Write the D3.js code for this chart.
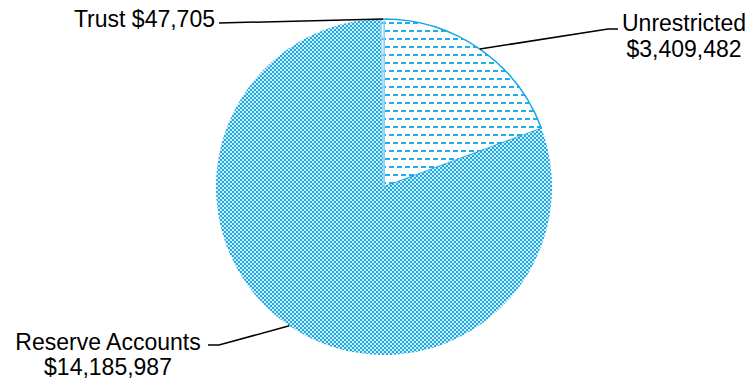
<!DOCTYPE html>
<html>
<head>
<meta charset="utf-8">
<script src="https://cdn.jsdelivr.net/npm/d3@7/dist/d3.min.js"></script>
<style>
  body { margin: 0; background: #fff; }
  svg { display: block; font-family: Arial, "Liberation Sans", sans-serif; }
</style>
</head>
<body>
<svg id="chart" width="751" height="381"></svg>
<script>
const categories = ["Unrestricted", "Reserve Accounts", "Trust"];
const values = [3409482, 14185987, 47705];
const labelLines = [["Unrestricted", "$3,409,482"], ["Reserve Accounts", "$14,185,987"], ["Trust $47,705"]];

const cx = 384, cy = 187, radius = 168;
const svg = d3.select("#chart");
const defs = svg.append("defs");

// dash pattern (unrestricted / trust)
const dash = defs.append("pattern").attr("id", "dash")
    .attr("patternUnits", "userSpaceOnUse")
    .attr("width", 8).attr("height", 16)
    .attr("x", 0).attr("y", 3);
dash.append("rect").attr("width", 8).attr("height", 16).attr("fill", "#fff");
dash.append("rect").attr("x", 1).attr("y", 0).attr("width", 5).attr("height", 2).attr("fill", "#1eaee8");
dash.append("rect").attr("x", 5).attr("y", 8).attr("width", 5).attr("height", 2).attr("fill", "#1eaee8");
dash.append("rect").attr("x", -3).attr("y", 8).attr("width", 5).attr("height", 2).attr("fill", "#1eaee8");
dash.selectAll("rect").attr("shape-rendering", "crispEdges");

// checker pattern (reserve)
const check = defs.append("pattern").attr("id", "check")
    .attr("patternUnits", "userSpaceOnUse")
    .attr("width", 4).attr("height", 4)
    .attr("x", 0).attr("y", 0);
check.append("rect").attr("width", 4).attr("height", 4).attr("fill", "#cdeefa");
check.append("rect").attr("width", 2).attr("height", 2).attr("fill", "#1ca8e4");
check.append("rect").attr("x", 2).attr("y", 2).attr("width", 2).attr("height", 2).attr("fill", "#1ca8e4");
check.selectAll("rect").attr("shape-rendering", "crispEdges");

const fills = ["url(#dash)", "url(#check)", "url(#dash)"];
const strokes = ["#1aa6e6", "none", "#9fd8f2"];

const pie = d3.pie().sort(null).value(d => d);
const arcs = pie(values);
const arc = d3.arc().innerRadius(0).outerRadius(radius);

const g = svg.append("g").attr("transform", `translate(${cx},${cy})`);

g.selectAll("path.slice")
    .data(arcs)
    .enter()
    .append("path")
    .attr("class", "slice")
    .attr("d", arc)
    .attr("fill", (d, i) => fills[i])
    .attr("stroke", (d, i) => strokes[i])
    .attr("stroke-width", 1.5)
    .attr("stroke-linejoin", "round");

// point on the rim at a given pie angle
const rim = (a, r) => [cx + r * Math.sin(a), cy - r * Math.cos(a)];
const mid = d => (d.startAngle + d.endAngle) / 2;

// leader lines and labels
const leaders = [
    { angle: mid(arcs[0]), knee: [608, 29], end: [618, 29] },
    { angle: mid(arcs[1]), knee: [219, 345], end: [208, 345] },
    { angle: 2 * Math.PI - 0.004, knee: [219, 23], end: [219, 23] }
];

leaders.forEach(l => {
    const p = rim(l.angle, radius);
    svg.append("polyline")
        .attr("points", [p, l.knee, l.end].map(q => q.join(",")).join(" "))
        .attr("fill", "none")
        .attr("stroke", "#000")
        .attr("stroke-width", 1.5);
});

const textStyle = sel => sel.attr("font-size", 23).attr("fill", "#000");

// Unrestricted
const t0 = svg.append("text").attr("text-anchor", "middle").call(textStyle);
t0.append("tspan").attr("x", 684).attr("y", 31).text(labelLines[0][0]);
t0.append("tspan").attr("x", 684).attr("y", 57).text(labelLines[0][1]);

// Reserve
const t1 = svg.append("text").attr("text-anchor", "middle").call(textStyle);
t1.append("tspan").attr("x", 108).attr("y", 350).text(labelLines[1][0]);
t1.append("tspan").attr("x", 108).attr("y", 375).text(labelLines[1][1]);

// Trust
svg.append("text").attr("text-anchor", "end").attr("x", 215).attr("y", 27)
    .call(textStyle).text(labelLines[2][0]);
</script>
</body>
</html>
